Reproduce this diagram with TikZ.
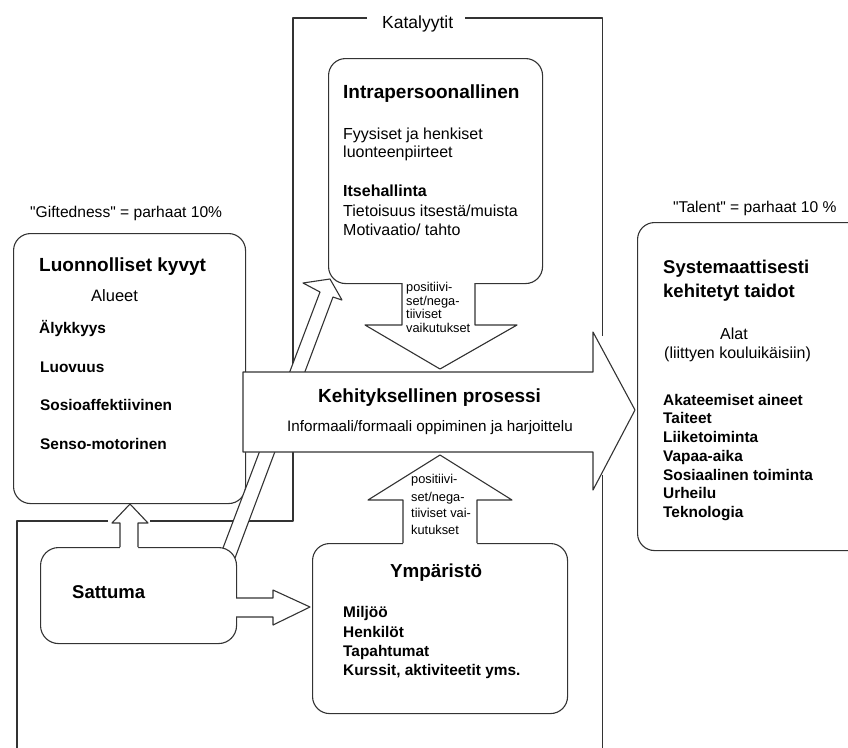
\documentclass[tikz,border=0pt]{standalone}
\usepackage{fontspec}
\setmainfont{Liberation Sans}[Ligatures=TeXOff]
\begin{document}
\begin{tikzpicture}[x=1pt,y=-1pt,
  ln/.style={draw=black!80,line width=1.1pt,line join=round},
  box/.style={ln,fill=white,rounded corners=17pt,anchor=north west,inner sep=0pt},
  t/.style={anchor=base west,inner sep=0pt,text=black},
  hdr/.style={t,font=\fontsize{19}{23}\selectfont\bfseries},
  hdrs/.style={t,font=\fontsize{18.5}{22}\selectfont\bfseries},
  txt/.style={t,font=\fontsize{16}{19}\selectfont},
  lst/.style={t,font=\fontsize{15.4}{19}\selectfont\bfseries},
  sml/.style={t,font=\fontsize{12.8}{14}\selectfont},
  captext/.style={t,font=\fontsize{15.6}{18}\selectfont}
]
\useasboundingbox (0,0) rectangle (848,747);
\clip (0,0) rectangle (848,747);

% Katalyytit frame
\draw[ln] (367,18) -- (293,18) -- (293,521) -- (150,521);
\draw[ln] (108,521) -- (17,521) -- (17,760);
\draw[ln] (465,18) -- (602.5,18) -- (602.5,336);
\draw[ln] (602.5,475) -- (602.5,760);

% boxes
\node[box,minimum width=232pt,minimum height=270pt] (luon) at (13,233) {};
\node[box,minimum width=214pt,minimum height=225pt] (intra) at (328,58) {};
\node[box,minimum width=255pt,minimum height=170pt] (ymp) at (312,543) {};
\node[box,minimum width=240pt,minimum height=328pt] (syst) at (637,222) {};
\node[box,minimum width=196pt,minimum height=96pt,rounded corners=18pt] (satt) at (40,547) {};

% diagonal arrow Sattuma -> Intrapersoonallinen
\fill[white] (223,548) -- (320,292) -- (303,283) -- (330,279) -- (342,300) -- (333,297) -- (235,558)
  -- (239,558) -- (239,544) -- (223,544) -- cycle;
\draw[ln] (223,548) -- (320,292) -- (303,283) -- (330,279) -- (342,300) -- (333,297) -- (235,558);

% big process arrow
\draw[ln,fill=white] (243,372) -- (593,372) -- (593,332) -- (635,410) -- (593,490) -- (593,452) -- (243,452) -- cycle;

% Intra -> process
\fill[white] (402,280) -- (402,325) -- (365,325) -- (440,369) -- (517,325) -- (475,325) -- (475,280) -- cycle;
\draw[ln] (402,283) -- (402,325) -- (365,325) -- (440,369) -- (517,325) -- (475,325) -- (475,283);

% Ympäristö -> process
\fill[white] (403,546) -- (403,500) -- (368,500) -- (440,455) -- (512,500) -- (477,500) -- (477,546) -- cycle;
\draw[ln] (403,543) -- (403,500) -- (368,500) -- (440,455) -- (512,500) -- (477,500) -- (477,543);

% Sattuma -> Luonnolliset
\fill[white] (120,550) -- (120,523) -- (112,523) -- (130,504) -- (148,523) -- (138,523) -- (138,550) -- cycle;
\draw[ln] (120,547) -- (120,523) -- (112,523) -- (130,504) -- (148,523) -- (138,523) -- (138,547);

% Sattuma -> Ympäristö
\fill[white] (233,598) -- (273,598) -- (273,590) -- (310,607) -- (273,625) -- (273,617) -- (233,617) -- cycle;
\draw[ln] (236,598) -- (273,598) -- (273,590) -- (310,607) -- (273,625) -- (273,617) -- (236,617);

% texts
\node[t,font=\fontsize{17.5}{20}\selectfont] (kat) at (382,28) {Katalyytit};

\node[hdr] (intraT) at (343,98) {Intrapersoonallinen};
\node[txt] (i1) at (343,139) {Fyysiset ja henkiset};
\node[txt] (i2) at (343,157) {luonteenpiirteet};
\node[t,font=\fontsize{16}{19}\selectfont\bfseries] (i3) at (343,196) {Itsehallinta};
\node[txt] (i4) at (343,216) {Tietoisuus itsestä/muista};
\node[txt] (i5) at (343,235) {Motivaatio/ tahto};

\node[captext] (gift) at (30,217) {"Giftedness" = parhaat 10\%};
\node[hdr] (luonT) at (39,271) {Luonnolliset kyvyt};
\node[t,font=\fontsize{16.5}{19}\selectfont] (alueet) at (91,301) {Alueet};
\node[lst] (l1) at (39,333) {Älykkyys};
\node[lst] (l2) at (40,372) {Luovuus};
\node[lst] (l3) at (40,410) {Sosioaffektiivinen};
\node[lst] (l4) at (40,449) {Senso-motorinen};

\node[hdr] (procT) at (318,402) {Kehityksellinen prosessi};
\node[t,font=\fontsize{15.2}{18}\selectfont] (procS) at (287,431) {Informaali/formaali oppiminen ja harjoittelu};

\node[sml] (d1) at (406,291) {positiivi-};
\node[sml] (d2) at (406,305) {set/nega-};
\node[sml] (d3) at (406,318) {tiiviset};
\node[sml] (d4) at (406,332) {vaikutukset};

\node[sml] (u1) at (411,483) {positiivi-};
\node[sml] (u2) at (411,501) {set/nega-};
\node[sml] (u3) at (411,517) {tiiviset vai-};
\node[sml] (u4) at (411,534) {kutukset};

\node[hdrs] (sattT) at (72,598) {Sattuma};

\node[t,font=\fontsize{18.8}{22}\selectfont\bfseries] (ympT) at (390,577) {Ympäristö};
\node[lst] (y1) at (343,617) {Miljöö};
\node[lst] (y2) at (343,637) {Henkilöt};
\node[lst] (y3) at (343,656) {Tapahtumat};
\node[lst] (y4) at (343,675) {Kurssit, aktiviteetit yms.};

\node[captext] (talent) at (673,212) {"Talent" = parhaat 10 \%};
\node[hdrs] (s1) at (663,273) {Systemaattisesti};
\node[hdrs] (s2) at (663,297) {kehitetyt taidot};
\node[txt] (alat) at (720,339) {Alat};
\node[txt] (liit) at (664,358) {(liittyen kouluikäisiin)};
\node[lst] (a1) at (663,405) {Akateemiset aineet};
\node[lst] (a2) at (663,423) {Taiteet};
\node[lst] (a3) at (663,442) {Liiketoiminta};
\node[lst] (a4) at (663,461) {Vapaa-aika};
\node[lst] (a5) at (663,480) {Sosiaalinen toiminta};
\node[lst] (a6) at (663,498) {Urheilu};
\node[lst] (a7) at (663,517) {Teknologia};
\end{tikzpicture}
\end{document}
